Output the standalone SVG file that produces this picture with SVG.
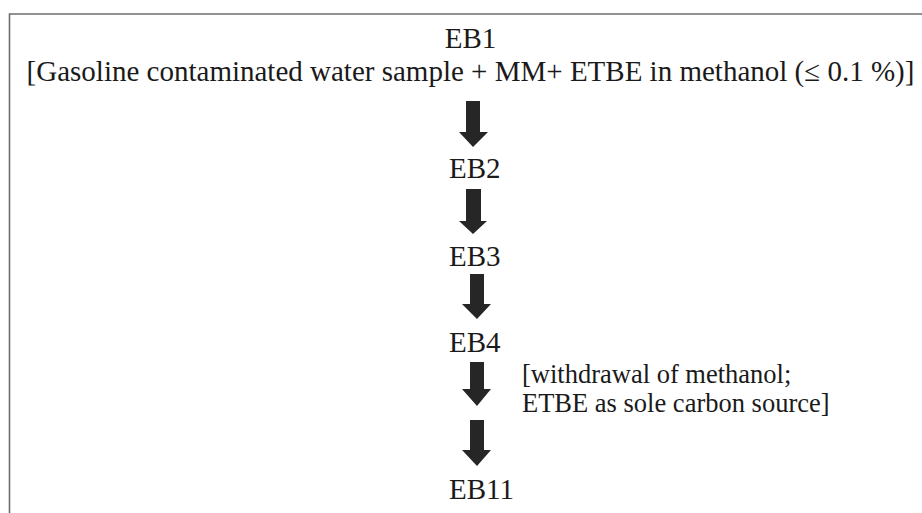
<svg xmlns="http://www.w3.org/2000/svg" width="922" height="513" viewBox="0 0 922 513">
<style>
.t{font-family:"Liberation Serif","Times New Roman",serif;font-size:29px;fill:#1a1a1a}
.s{font-family:"Liberation Serif","Times New Roman",serif;font-size:26.5px;fill:#1a1a1a}
.a{fill:#262626}
</style>
<rect width="922" height="513" fill="#ffffff"/>
<path d="M9.5,513 V14 H922" fill="none" stroke="#6e6e6e" stroke-width="1.6"/>
<g id="EB1">
<text class="t" x="470.5" y="48" text-anchor="middle">EB1</text>
<text class="t" x="470.5" y="81" text-anchor="middle">[Gasoline contaminated water sample + MM+ ETBE in methanol (≤ 0.1 %)]</text>
</g>
<g id="EB2"><text class="t" x="449" y="178">EB2</text></g>
<g id="EB3"><text class="t" x="449" y="266">EB3</text></g>
<g id="EB4"><text class="t" x="449" y="352">EB4</text></g>
<g id="EB11"><text class="t" x="449" y="499">EB11</text></g>
<g id="note">
<text class="s" x="522" y="383">[withdrawal of methanol;</text>
<text class="s" x="522" y="412">ETBE as sole carbon source]</text>
</g>
<g id="connectors">
<polygon class="a" points="466,101 480,101 480,132 488,132 473,147 459,132 466,132"/>
<polygon class="a" points="466,189 481,189 481,221 487,221 473,234 459,221 466,221"/>
<polygon class="a" points="470,274 484,274 484,304 491,304 477,319 462,304 470,304"/>
<polygon class="a" points="470,362 484,362 484,389 491,389 477,406 462,389 470,389"/>
<polygon class="a" points="470,420 484,420 484,450 491,450 477,466 462,450 470,450"/>
</g>
</svg>
